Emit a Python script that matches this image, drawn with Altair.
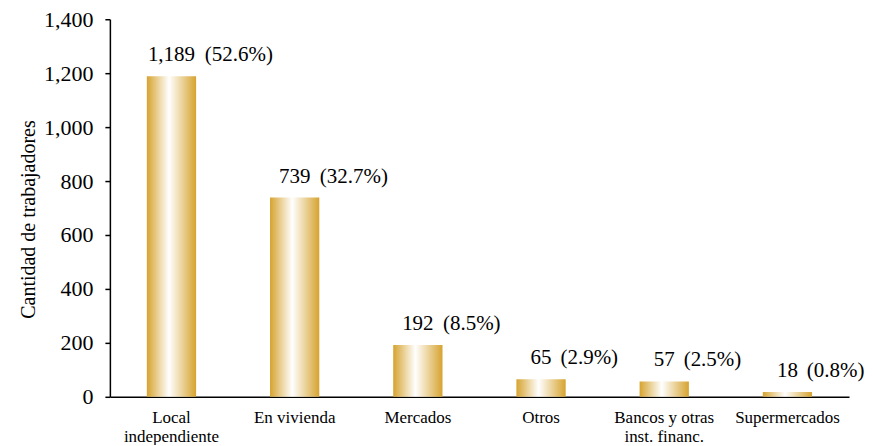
import altair as alt
import pandas as pd

categories = ["Local|independiente", "En vivienda", "Mercados", "Otros",
              "Bancos y otras|inst. financ.", "Supermercados"]
values = [1189, 739, 192, 65, 57, 18]
value_labels = ["1,189", "739", "192", "65", "57", "18"]
percents = ["(52.6%)", "(32.7%)", "(8.5%)", "(2.9%)", "(2.5%)", "(0.8%)"]
y_ticks = [0, 200, 400, 600, 800, 1000, 1200, 1400]

df = pd.DataFrame({"cat": categories, "val": values, "num": value_labels, "pct": percents})

FONT = "Liberation Serif"
gold = "#D6A32F"

x = alt.X(
    "cat:N", sort=categories,
    scale=alt.Scale(paddingInner=0.6, paddingOuter=0.3),
    axis=alt.Axis(title=None, labelExpr="split(datum.label, '|')", labelAngle=0,
                  ticks=False, domainColor="black", domainWidth=1.5,
                  labelFont=FONT, labelFontSize=17, labelColor="black",
                  labelPadding=13, labelLineHeight=19, labelBaseline="top"),
)
y = alt.Y(
    "val:Q", scale=alt.Scale(domain=[0, 1400], nice=False),
    axis=alt.Axis(title="Cantidad de trabajadores", values=y_ticks, format=",d",
                  grid=False, domainColor="black", domainWidth=1.5,
                  tickColor="black", tickSize=5, tickWidth=1.5,
                  labelFont=FONT, labelFontSize=22, labelColor="black", labelPadding=12,
                  titleFont=FONT, titleFontSize=20, titleFontWeight="normal",
                  titleColor="black", titlePadding=5, titleY=200),
)

bars = alt.Chart(df).mark_bar(
    color=alt.Gradient(
        gradient="linear", x1=0, x2=1, y1=0, y2=0,
        stops=[alt.GradientStop(color=gold, offset=0),
               alt.GradientStop(color="#FFFFFF", offset=0.45),
               alt.GradientStop(color=gold, offset=1)],
    )
).encode(x=x, y=y)

nums = alt.Chart(df).mark_text(
    baseline="alphabetic", align="center", dy=-15, font=FONT, fontSize=21, color="black"
).encode(x=x, y=y, text="num:N")

# offset of the percentage text from the band start: half band + half number width + gap
pcts = alt.Chart(df).transform_calculate(
    off="24.7 + length(replace(datum.num, ',', '')) * 5.7 + (indexof(datum.num, ',') >= 0 ? 2.5 : 0) + 8"
).mark_text(
    baseline="alphabetic", align="left", dy=-15, font=FONT, fontSize=21, color="black"
).encode(x=x, xOffset=alt.XOffset("off:Q", scale=None), y=y, text="pct:N")

chart = alt.layer(bars, nums, pcts).properties(
    width=740, height=378, padding={"left": 10, "top": 0, "right": 0, "bottom": 0}
).configure_view(stroke=None)

chart.save("out.html", embed_options={"renderer": "svg", "actions": False})
